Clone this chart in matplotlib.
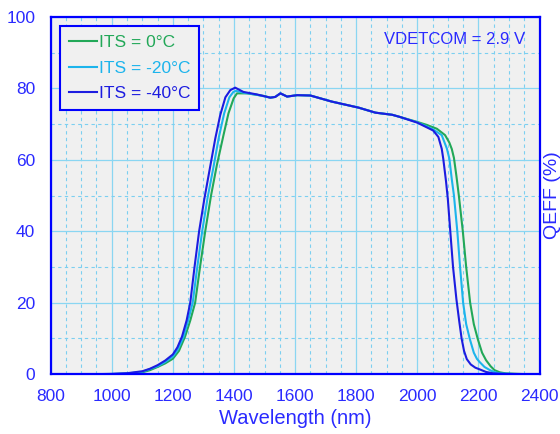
import numpy as np
import matplotlib
matplotlib.use("Agg")
import matplotlib.pyplot as plt
from matplotlib.ticker import MultipleLocator

plt.rcParams["font.family"] = ["Liberation Sans", "DejaVu Sans"]

# shared plateau section (all three temperatures overlap here)
wl_mid = [1519, 1535, 1552, 1574, 1607, 1650, 1720, 1808, 1863, 1918, 1943]
qe_mid = [77.4, 77.6, 78.6, 77.7, 78.1, 78.0, 76.3, 74.6, 73.2, 72.6, 72.0]

# QEFF (%) vs wavelength (nm)
wl_0c = ([950, 1000, 1050, 1100, 1125, 1150, 1175, 1200, 1220, 1240, 1257,
          1273, 1289, 1306, 1325, 1344, 1366, 1382, 1399, 1410, 1443, 1497]
         + wl_mid +
         [2000, 2030, 2064, 2091, 2105, 2113, 2120, 2128, 2136, 2149, 2160,
          2173, 2185, 2198, 2212, 2225, 2240, 2253, 2270, 2290, 2350])
qe_0c = ([0, 0.03, 0.15, 0.5, 1.1, 2.0, 3.0, 4.3, 6.5, 10.5, 15,
          20, 30, 40, 50, 58.5, 67, 73, 77.2, 78.6, 78.6, 77.9]
         + qe_mid +
         [70.6, 69.8, 68.7, 66.9, 64.8, 63, 60.5, 55.5, 50, 40, 30,
          20, 14, 9.8, 6, 3.9, 2.2, 1.1, 0.5, 0.2, 0])

wl_m20c = ([950, 1000, 1050, 1100, 1150, 1175, 1200, 1217, 1235, 1250, 1265,
            1280, 1296, 1314, 1333, 1351, 1368, 1385, 1398, 1407, 1430, 1475]
           + wl_mid +
           [2000, 2052, 2080, 2097, 2105, 2113, 2120, 2131, 2140, 2150, 2160,
            2172, 2185, 2195, 2205, 2220, 2238, 2255, 2270, 2320])
qe_m20c = ([0, 0.04, 0.18, 0.65, 2.2, 3.4, 4.9, 7, 10.5, 15, 20,
            30, 40, 49.5, 58, 66.5, 73, 77.5, 79.0, 79.3, 78.8, 78.2]
           + qe_mid +
           [70.5, 68.5, 66.9, 63.1, 60.3, 54.5, 50, 40, 30, 20, 14,
            9.8, 6, 4.3, 3.3, 2, 1.1, 0.5, 0.2, 0])

wl_m40c = ([950, 1000, 1050, 1100, 1125, 1150, 1175, 1200, 1215, 1230, 1245,
            1257, 1271, 1286, 1303, 1322, 1339, 1355, 1372, 1388, 1404, 1431,
            1475] + wl_mid +
           [2000, 2052, 2069, 2080, 2085, 2094, 2100, 2108, 2117, 2128, 2137,
            2145, 2153, 2162, 2175, 2190, 2205, 2225, 2250, 2280, 2350])
qe_m40c = ([0, 0.05, 0.25, 0.8, 1.5, 2.5, 3.8, 5.5, 7.5, 10.5, 15,
            20, 30, 40, 49, 58, 66, 72.5, 77.5, 79.5, 80.2, 79.0,
            78.3] + qe_mid +
           [70.4, 68.2, 66.4, 63.1, 60.3, 54, 49, 40, 30, 21, 15,
            10, 6.5, 4.2, 2.7, 1.8, 1.3, 0.6, 0.2, 0.05, 0])

labels = ["ITS = 0°C", "ITS = -20°C", "ITS = -40°C"]
colors = ["#22a858", "#1cb4ec", "#1c1ce0"]

blue = "#0000ff"
txt_blue = "#2a2aff"

fig = plt.figure(figsize=(5.6, 4.34), dpi=100)
ax = fig.add_axes([0.0904, 0.138, 0.873, 0.823])
ax.set_facecolor("#f0f0f0")

for wl, qe, lab, c in zip([wl_0c, wl_m20c, wl_m40c], [qe_0c, qe_m20c, qe_m40c],
                          labels, colors):
    ax.plot(wl, qe, color=c, lw=1.5, label=lab)

ax.set_xlim(800, 2400)
ax.set_ylim(0, 100)
ax.xaxis.set_major_locator(MultipleLocator(200))
ax.xaxis.set_minor_locator(MultipleLocator(50))
ax.yaxis.set_major_locator(MultipleLocator(20))
ax.yaxis.set_minor_locator(MultipleLocator(10))
ax.grid(which="major", color="#8ad6f2", lw=0.9, ls="-")
ax.grid(which="minor", color="#7ccff0", lw=0.8, ls=(0, (3, 3)))
ax.set_axisbelow(True)

ax.tick_params(which="both", length=0, colors=txt_blue, labelsize=12.5)
ax.tick_params(axis="x", pad=11)
ax.tick_params(axis="y", pad=11)
for s in ax.spines.values():
    s.set_color(blue)
    s.set_linewidth(1.6)

ax.set_xlabel("Wavelength (nm)", color=txt_blue, fontsize=14.5, labelpad=3)
ax.yaxis.set_label_position("right")
ax.set_ylabel("QEFF (%)", color=txt_blue, fontsize=14, rotation=90, labelpad=3)

leg = ax.legend(loc="upper left", fontsize=12.5, handlelength=1.6,
                handletextpad=0.15, labelspacing=0.6, borderaxespad=0.55,
                fancybox=False, framealpha=1, borderpad=0.5)
leg.get_frame().set_edgecolor(blue)
leg.get_frame().set_linewidth(1.5)
leg.get_frame().set_facecolor("#f0f0f0")
for t, c in zip(leg.get_texts(), colors):
    t.set_color(c)

ax.text(0.971, 0.938, "VDETCOM = 2.9 V", transform=ax.transAxes,
        ha="right", va="center", fontsize=12, color=txt_blue)

fig.savefig("out.png", dpi=100)
